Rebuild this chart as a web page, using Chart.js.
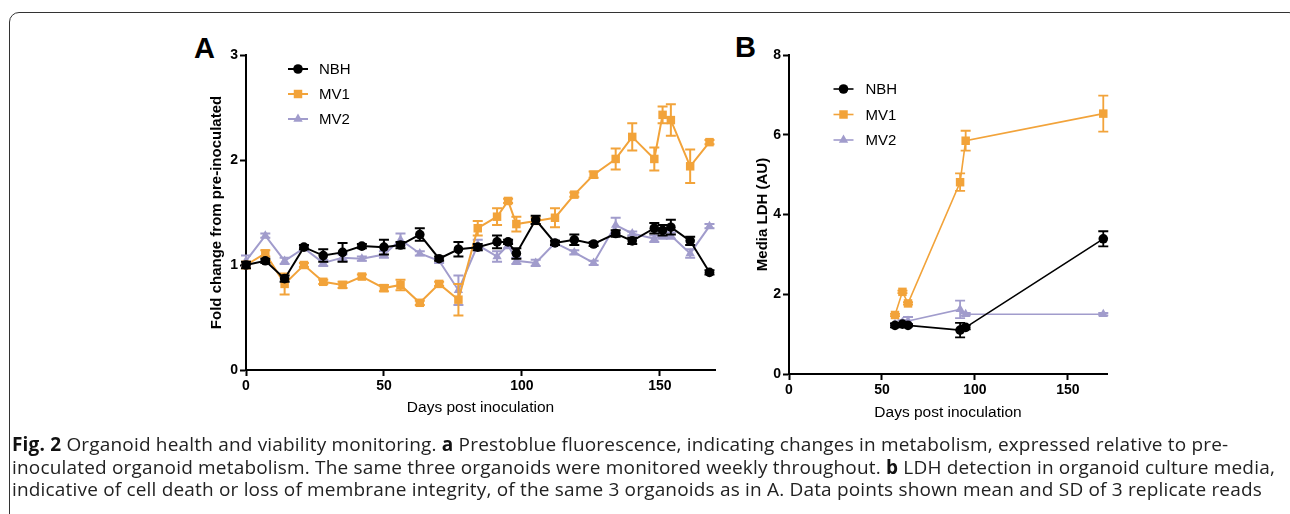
<!DOCTYPE html>
<html>
<head>
<meta charset="utf-8">
<script src="https://cdn.jsdelivr.net/npm/chart.js@4.4.1/dist/chart.umd.min.js"></script>
<style>
  html, body { margin: 0; padding: 0; background: #fff; }
  body { width: 1290px; height: 514px; position: relative; overflow: hidden; }
  #frame { position: absolute; left: 9px; top: 12px; width: 1290px; height: 560px;
           border: 1.5px solid #333; border-radius: 10px; box-sizing: border-box; }
  .panel { position: absolute; font-family: 'Liberation Sans', Arial, sans-serif; font-weight: bold; font-size: 29px; color: #000; line-height: 1; }
  #caption { position: absolute; left: 12px; top: 433px; font-family: 'Open Sans', sans-serif; font-size: 19px;
             letter-spacing: 0.18px; line-height: 22.5px; color: #222; white-space: nowrap; }
  #caption b { color: #111; }
  canvas { position: absolute; }
</style>
</head>
<body>
<div id="frame"></div>
<div class="panel" style="left:194px; top:34px;">A</div>
<div class="panel" style="left:735px; top:33px;">B</div>
<div style="position:absolute; left:196px; top:25px; width:540px; height:405px;"><canvas id="chartA"></canvas></div>
<div style="position:absolute; left:740px; top:25px; width:390px; height:410px;"><canvas id="chartB"></canvas></div>
<div id="caption">
<div><b>Fig. 2</b> Organoid health and viability monitoring. <b>a</b> Prestoblue fluorescence, indicating changes in metabolism, expressed relative to pre-</div>
<div>inoculated organoid metabolism. The same three organoids were monitored weekly throughout. <b>b</b> LDH detection in organoid culture media,</div>
<div>indicative of cell death or loss of membrane integrity, of the same 3 organoids as in A. Data points shown mean and SD of 3 replicate reads</div>
</div>
<script>
// ---------- Data: Panel A (Prestoblue fold change) ----------
const daysA = [0,7,14,21,28,35,42,50,56,63,70,77,84,91,95,98,105,112,119,126,134,140,148,151,154,161,168];
const nbhA  = [1.00,1.04,0.87,1.17,1.09,1.12,1.18,1.17,1.19,1.29,1.06,1.15,1.17,1.22,1.22,1.11,1.43,1.21,1.24,1.20,1.30,1.23,1.35,1.33,1.36,1.23,0.93];
const nbhAErr = [0.03,0.02,0.03,0.02,0.06,0.09,0.02,0.07,0.03,0.06,0.02,0.07,0.03,0.06,0.02,0.05,0.04,0.02,0.05,0.02,0.03,0.03,0.05,0.05,0.07,0.04,0.02];
const mv1A  = [1.00,1.11,0.82,1.00,0.84,0.81,0.89,0.78,0.81,0.64,0.82,0.67,1.35,1.46,1.61,1.39,1.42,1.45,1.67,1.86,2.01,2.22,2.01,2.43,2.38,1.94,2.17];
const mv1AErr = [0.03,0.03,0.10,0.02,0.02,0.03,0.02,0.03,0.05,0.02,0.02,0.15,0.07,0.08,0.02,0.07,0.03,0.09,0.02,0.03,0.10,0.13,0.11,0.08,0.15,0.16,0.02];
const mv2A  = [1.04,1.28,1.04,1.16,1.02,1.07,1.06,1.10,1.24,1.11,1.04,0.76,1.19,1.08,1.19,1.04,1.02,1.21,1.12,1.02,1.38,1.30,1.25,1.28,1.28,1.11,1.37];
const mv2AErr = [0.05,0.02,0.03,0.02,0.03,0.03,0.02,0.03,0.06,0.02,0.02,0.14,0.05,0.05,0.03,0.03,0.03,0.02,0.02,0.02,0.07,0.02,0.03,0.03,0.03,0.04,0.02];
const xTicksA = [0,50,100,150];
const yTicksA = [0,1,2,3];

// ---------- Data: Panel B (Media LDH) ----------
const daysB = [57,61,64,92,95,169];
const nbhB  = [1.22,1.25,1.22,1.10,1.17,3.39];
const nbhBErr = [0.05,0.03,0.03,0.18,0.05,0.19];
const mv1B  = [1.48,2.06,1.77,4.81,5.85,6.53];
const mv1BErr = [0.03,0.03,0.03,0.22,0.25,0.45];
const mv2B  = [1.25,1.30,1.33,1.62,1.50,1.50];
const mv2BErr = [0.02,0.05,0.10,0.22,0.03,0.03];
const xTicksB = [0,50,100,150];
const yTicksB = [0,2,4,6,8];

const seriesNames = ['NBH','MV1','MV2'];
const COLORS = { NBH: '#000000', MV1: '#F2A33A', MV2: '#A19CCC' };
const STYLES = { NBH: 'circle', MV1: 'rect', MV2: 'triangle' };

Chart.defaults.font.family = "'Liberation Sans', Arial, sans-serif";
Chart.defaults.color = '#000';

function pts(xs, ys) { return xs.map((x, i) => ({ x: x, y: ys[i] })); }

function makeDataset(name, xs, ys, errs, lw, radii) {
  return {
    label: name,
    data: pts(xs, ys),
    errors: errs,
    borderColor: COLORS[name],
    backgroundColor: COLORS[name],
    borderWidth: lw,
    pointStyle: STYLES[name],
    pointRadius: radii[name],
    pointHoverRadius: radii[name],
    pointBorderWidth: 0,
    pointBackgroundColor: COLORS[name],
    tension: 0,
    clip: false
  };
}

const errorBarPlugin = {
  id: 'errorBars',
  beforeDatasetDraw(chart, args, opts) {
    const ds = chart.data.datasets[args.index];
    if (!ds.errors) return;
    const xs = chart.scales.x, ys = chart.scales.y;
    const ctx = chart.ctx;
    ctx.save();
    ctx.strokeStyle = ds.borderColor;
    ctx.lineWidth = opts.lineWidth || 2;
    const cap = opts.cap || 5;
    ds.data.forEach((p, i) => {
      const e = ds.errors[i];
      if (!e) return;
      const px = xs.getPixelForValue(p.x);
      const yt = ys.getPixelForValue(p.y + e);
      const yb = ys.getPixelForValue(p.y - e);
      ctx.beginPath();
      ctx.moveTo(px, yt); ctx.lineTo(px, yb);
      ctx.moveTo(px - cap, yt); ctx.lineTo(px + cap, yt);
      ctx.moveTo(px - cap, yb); ctx.lineTo(px + cap, yb);
      ctx.stroke();
    });
    ctx.restore();
  }
};

const customLegendPlugin = {
  id: 'customLegend',
  afterDraw(chart, args, opts) {
    const ctx = chart.ctx;
    const ca = chart.chartArea;
    ctx.save();
    chart.data.datasets.forEach((ds, i) => {
      const cx = ca.left + opts.dx;
      const cy = ca.top + opts.dy + i * opts.spacing;
      ctx.strokeStyle = ds.borderColor;
      ctx.lineWidth = ds.borderWidth;
      ctx.beginPath();
      ctx.moveTo(cx - 10, cy); ctx.lineTo(cx + 10, cy);
      ctx.stroke();
      ctx.fillStyle = ds.backgroundColor;
      Chart.helpers.drawPoint(ctx, { pointStyle: ds.pointStyle, radius: ds.pointRadius, rotation: 0, borderWidth: 0 }, cx, cy);
      ctx.fillStyle = '#000';
      ctx.font = "15px 'Liberation Sans', Arial, sans-serif";
      ctx.textBaseline = 'middle';
      ctx.textAlign = 'left';
      ctx.fillText(ds.label, cx + opts.textGap, cy + 1);
    });
    ctx.restore();
  }
};

function axisCommon(ticksArr, min, max, titleText, titleBold, titlePad, fitSize, isX) {
  return {
    type: 'linear',
    min: min, max: max,
    afterBuildTicks: (s) => { s.ticks = ticksArr.map(v => ({ value: v })); },
    afterFit: (s) => { if (isX) s.height = fitSize; else s.width = fitSize; },
    border: { display: true, color: '#000', width: 2 },
    grid: { drawOnChartArea: false, drawTicks: true, tickLength: 6, tickWidth: 2, tickColor: '#000' },
    ticks: { color: '#000', font: { size: 14, weight: 'bold' }, padding: 2, maxRotation: 0, autoSkip: false },
    title: { display: true, text: titleText, color: '#000',
             font: { size: isX ? 15.5 : 15, weight: titleBold ? 'bold' : 'normal' }, padding: titlePad }
  };
}

// Chart A
const radiiA = { NBH: 4.8, MV1: 6.0, MV2: 5.4 };
new Chart(document.getElementById('chartA'), {
  type: 'line',
  data: {
    datasets: [
      makeDataset('NBH', daysA, nbhA, nbhAErr, 2, radiiA),
      makeDataset('MV1', daysA, mv1A, mv1AErr, 2, radiiA),
      makeDataset('MV2', daysA, mv2A, mv2AErr, 2, radiiA)
    ]
  },
  options: {
    responsive: true, maintainAspectRatio: false, animation: false,
    layout: { padding: { top: 30, right: 21, bottom: 10, left: 0 } },
    plugins: {
      legend: { display: false }, tooltip: { enabled: false },
      errorBars: { lineWidth: 2, cap: 5 },
      customLegend: { dx: 52, dy: 14, spacing: 25, textGap: 21 }
    },
    scales: {
      x: axisCommon(xTicksA, 0, 170, 'Days post inoculation', false, { top: 0, bottom: 3 }, 50, true),
      y: axisCommon(yTicksA, 0, 3, 'Fold change from pre-inoculated', true, { top: 12, bottom: 0 }, 50, false)
    }
  },
  plugins: [errorBarPlugin, customLegendPlugin]
});

// Chart B
const radiiB = { NBH: 4.8, MV1: 6.0, MV2: 5.4 };
new Chart(document.getElementById('chartB'), {
  type: 'line',
  data: {
    datasets: [
      makeDataset('NBH', daysB, nbhB, nbhBErr, 1.6, radiiB),
      makeDataset('MV1', daysB, mv1B, mv1BErr, 1.6, radiiB),
      makeDataset('MV2', daysB, mv2B, mv2BErr, 1.6, radiiB)
    ]
  },
  options: {
    responsive: true, maintainAspectRatio: false, animation: false,
    layout: { padding: { top: 30, right: 23, bottom: 10, left: 0 } },
    plugins: {
      legend: { display: false }, tooltip: { enabled: false },
      errorBars: { lineWidth: 1.8, cap: 5 },
      customLegend: { dx: 54.5, dy: 34, spacing: 25.5, textGap: 22 }
    },
    scales: {
      x: axisCommon(xTicksB, 0, 171, 'Days post inoculation', false, { top: 0, bottom: 3 }, 51, true),
      y: axisCommon(yTicksB, 0, 8, 'Media LDH (AU)', true, { top: 14, bottom: 0 }, 49, false)
    }
  },
  plugins: [errorBarPlugin, customLegendPlugin]
});
</script>
</body>
</html>
